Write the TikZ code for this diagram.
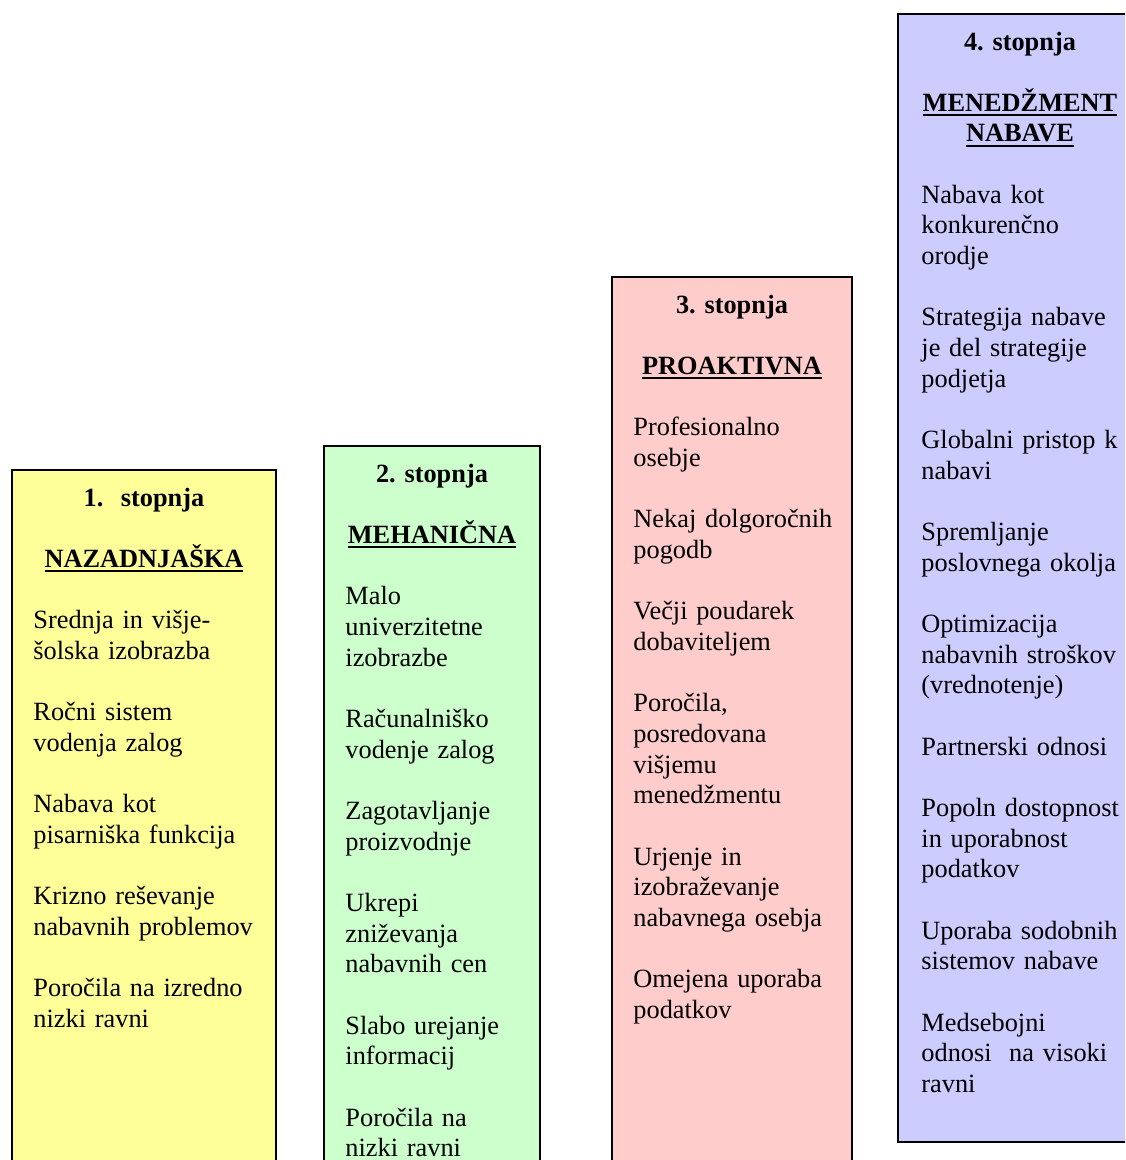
\documentclass[tikz,border=0pt]{standalone}
\usepackage{fontspec}
\setmainfont{Liberation Serif}
\definecolor{stageone}{HTML}{FFFF99}
\definecolor{stagetwo}{HTML}{CCFFCC}
\definecolor{stagethree}{HTML}{FFCCCC}
\definecolor{stagefour}{HTML}{CCCCFF}
\newsavebox{\stagebox}
\newcommand{\stagefont}{\fontsize{11.85pt}{13.8pt}\selectfont\frenchspacing}
\newcommand{\stageul}[1]{\leavevmode\mbox{\sbox{\stagebox}{#1}\rlap{\rule[-2.2pt]{\wd\stagebox}{0.9pt}}\usebox{\stagebox}}}
\tikzset{stage/.style={draw=black,line width=0.9pt},
  stagetitle/.style={anchor=base,inner sep=0pt,text width=230*0.45pt,align=center,font=\stagefont\bfseries},
  stagebody/.style={anchor=base west,inner sep=0pt,text width=260*0.45pt,align=left,font=\stagefont,
    execute at begin node={\setlength{\parskip}{13.8pt}}}}

\begin{document}
\begin{tikzpicture}[x=0.45pt,y=-0.45pt]
                  \useasboundingbox (0,0) rectangle (1125,1160);
                  \clip (0,0) rectangle (1125,1160);
                  % four stages, rising to the right
                  \filldraw[stage,fill=stageone] (12,470) rectangle (276,1200);
                  \filldraw[stage,fill=stagetwo] (324,446) rectangle (540,1200);
                  \filldraw[stage,fill=stagethree] (612,277) rectangle (852,1200);
                  \filldraw[stage,fill=stagefour] (898,14) rectangle (1140,1142);
                  \node[stagetitle] (t1) at (144,506) {1.\ \ stopnja};
                  \node[stagetitle] (h1) at (144,567.3) {\stageul{NAZADNJAŠKA}};
                  \node[stagebody] (b1) at (33,628.7) {Srednja in višje-\\šolska izobrazba\par
                    Ročni sistem\\vodenja zalog\par
                    Nabava kot\\pisarniška funkcija\par
                    Krizno reševanje\\nabavnih problemov\par
                    Poročila na izredno\\nizki ravni};
                  \node[stagetitle] (t2) at (432,482) {2. stopnja};
                  \node[stagetitle] (h2) at (432,543.3) {\stageul{MEHANIČNA}};
                  \node[stagebody] (b2) at (345,604.7) {Malo\\univerzitetne\\izobrazbe\par
                    Računalniško\\vodenje zalog\par
                    Zagotavljanje\\proizvodnje\par
                    Ukrepi\\zniževanja\\nabavnih cen\par
                    Slabo urejanje\\informacij\par
                    Poročila na\\nizki ravni};
                  \node[stagetitle] (t3) at (732,313) {3. stopnja};
                  \node[stagetitle] (h3) at (732,374.3) {\stageul{PROAKTIVNA}};
                  \node[stagebody] (b3) at (633,435.7) {Profesionalno\\osebje\par
                    Nekaj dolgoročnih\\pogodb\par
                    Večji poudarek\\dobaviteljem\par
                    Poročila,\\posredovana\\višjemu\\menedžmentu\par
                    Urjenje in\\izobraževanje\\nabavnega osebja\par
                    Omejena uporaba\\podatkov};
                  \node[stagetitle] (t4) at (1020,50) {4. stopnja};
                  \node[stagetitle] (h4) at (1020,111.3) {\stageul{MENEDŽMENT}\\\stageul{NABAVE}};
                  \node[stagebody] (b4) at (921,203.3) {Nabava kot\\konkurenčno\\orodje\par
                    Strategija nabave\\je del strategije\\podjetja\par
                    Globalni pristop k\\nabavi\par
                    Spremljanje\\poslovnega okolja\par
                    Optimizacija\\nabavnih stroškov\\(vrednotenje)\par
                    Partnerski odnosi\par
                    Popoln dostopnost\\in uporabnost\\podatkov\par
                    Uporaba sodobnih\\sistemov nabave\par
                    Medsebojni\\odnosi\ \ na visoki\\ravni};
              \end{tikzpicture}
\end{document}
